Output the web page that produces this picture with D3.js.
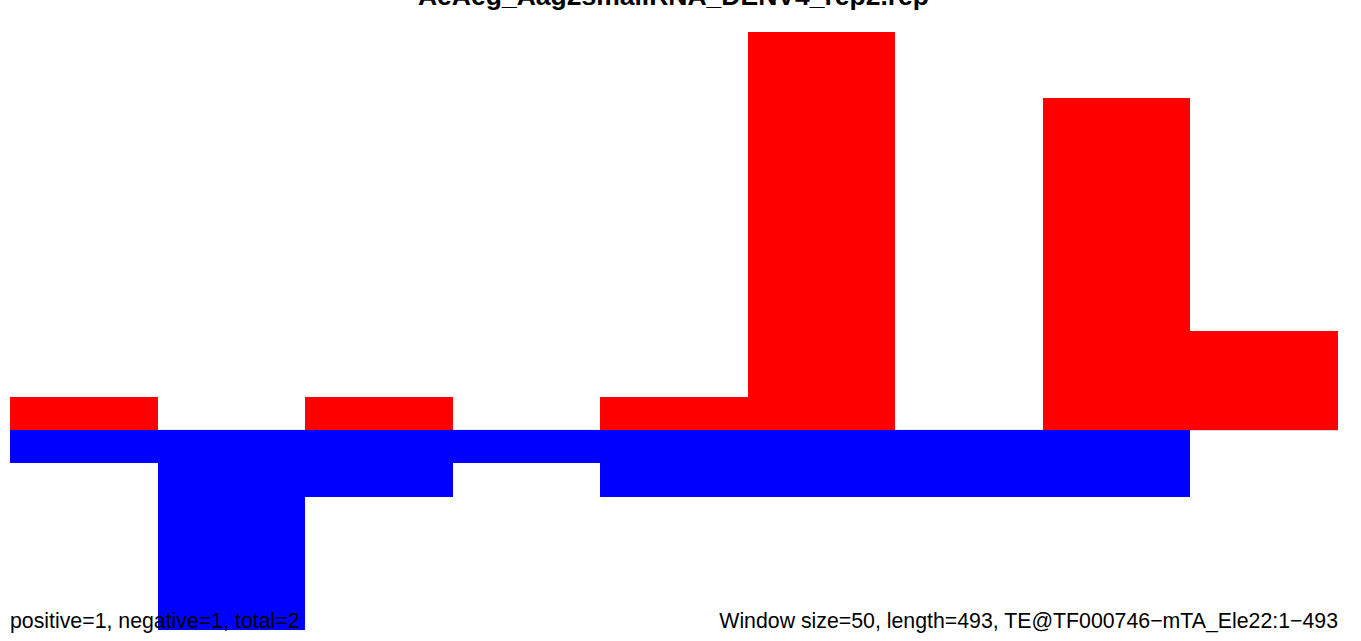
<!DOCTYPE html>
<html><head><meta charset="utf-8">
<script src="https://cdn.jsdelivr.net/npm/d3@7"></script>
<style>body{margin:0;background:#fff;} svg{display:block;}</style>
</head><body>
<script>
const bins = [1,2,3,4,5,6,7,8,9];
const positive = [1,0,1,0,1,12,0,10,3];
const negative = [1,6,2,1,2,2,2,2,0];
const titleText = "AeAeg_Aag2smallRNA_DENV4_rep2.rep";
const leftNote = "positive=1, negative=1, total=2";
const rightNote = "Window size=50, length=493, TE@TF000746\u2212mTA_Ele22:1\u2212493";

const W = 1361, H = 641;
const svg = d3.select("body").append("svg").attr("width", W).attr("height", H);
const x = d3.scaleBand().domain(bins).range([10, 1338]).paddingInner(0).paddingOuter(0);
const y = d3.scaleLinear().domain([-6, 12]).range([629.5, 31.5]);

svg.append("line").attr("x1", 10).attr("x2", 1338).attr("y1", y(0)).attr("y2", y(0))
  .attr("stroke", "#bebebe").attr("stroke-width", 1);

svg.selectAll("rect.pos").data(bins).join("rect").attr("class","pos")
  .attr("x", d => x(d)).attr("width", x.bandwidth())
  .attr("y", (d,i) => y(positive[i])).attr("height", (d,i) => y(0) - y(positive[i]))
  .attr("fill", "#ff0000").attr("shape-rendering","crispEdges");
svg.selectAll("rect.neg").data(bins).join("rect").attr("class","neg")
  .attr("x", d => x(d)).attr("width", x.bandwidth())
  .attr("y", y(0)).attr("height", (d,i) => y(-negative[i]) - y(0))
  .attr("fill", "#0000ff").attr("shape-rendering","crispEdges");

svg.append("text").attr("x", 673.5).attr("y", 5).attr("text-anchor","middle")
  .attr("font-family","Liberation Sans, Arial, sans-serif").attr("font-weight","bold")
  .attr("font-size", 26.5).attr("fill","#000").text(titleText);
svg.append("text").attr("x", 10).attr("y", 628)
  .attr("font-family","Liberation Sans, Arial, sans-serif")
  .attr("font-size", 21.3).attr("fill","#000").text(leftNote);
svg.append("text").attr("x", 1338).attr("y", 628).attr("text-anchor","end")
  .attr("font-family","Liberation Sans, Arial, sans-serif")
  .attr("font-size", 21.3).attr("fill","#000").text(rightNote);
</script>
</body></html>
